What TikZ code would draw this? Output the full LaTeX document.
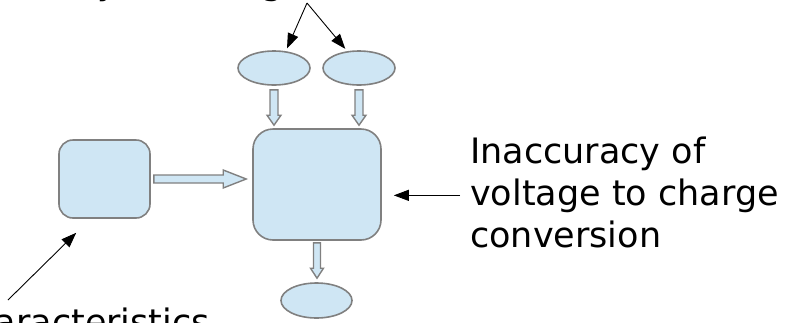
\documentclass[tikz,border=0pt]{standalone}
\usepackage{fontspec}
\setmainfont{DejaVu Sans}
\usetikzlibrary{calc,arrows.meta,shapes.geometric}
\definecolor{boxfill}{HTML}{CFE6F4}
\definecolor{boxline}{HTML}{808080}
\tikzset{
  shapebase/.style={draw=boxline, fill=boxfill, line width=1.6pt, inner sep=0pt},
  rbox/.style={shapebase, rectangle, rounded corners=#1},
  oval/.style={shapebase, ellipse, minimum width=72pt, minimum height=34pt},
  labeltext/.style={font=\fontsize{35}{42}\selectfont, inner sep=0pt, text=black},
  pointer/.style={draw=black, line width=0.9pt, -{Triangle[length=15pt,width=11pt]}},
  fatstyle/.style={draw=boxline, fill=boxfill, line width=1.4pt, line join=miter},
}
\newcommand\fatarrow[5]{%
  \coordinate (fq) at ($(#2)!#5!(#1)$);
  \draw[fatstyle] ($(#1)!#3!90:(#2)$) -- ($(fq)!#3!90:(#2)$) -- ($(fq)!#4!90:(#2)$)
    -- (#2) -- ($(fq)!#4!-90:(#2)$) -- ($(fq)!#3!-90:(#2)$) -- ($(#1)!#3!-90:(#2)$) -- cycle;}
\begin{document}
\begin{tikzpicture}[x=1pt, y=-1pt]
  \useasboundingbox (0,0) rectangle (785,322);
  \clip (0,0) rectangle (785,322);
  % shapes
  \node[rbox=14pt, minimum width=91pt, minimum height=78pt] (src) at (104.5,179) {};
  \node[rbox=20pt, minimum width=128pt, minimum height=111pt] (big) at (317,184.5) {};
  \node[oval] (in1) at (274,68) {};
  \node[oval] (in2) at (359,68) {};
  \node[oval, minimum width=71pt, minimum height=35pt] (out) at (316.5,300.5) {};
  % fat arrows
  \coordinate (h1) at ($(src.east)+(3,0)$);
  \coordinate (h2) at ($(big.west |- src.east)+(-6,0)$);
  \fatarrow{h1}{h2}{4pt}{9pt}{23pt}
  \coordinate (v1s) at ($(in1.south)+(0,4)$);
  \coordinate (v1e) at ($(in1.south |- big.north)+(0,-3)$);
  \fatarrow{v1s}{v1e}{4pt}{7pt}{10pt}
  \coordinate (v2s) at ($(in2.south)+(0,4)$);
  \coordinate (v2e) at ($(in2.south |- big.north)+(0,-3)$);
  \fatarrow{v2s}{v2e}{4pt}{7pt}{10pt}
  \coordinate (v3s) at ($(big.south)+(0,2)$);
  \coordinate (v3e) at ($(big.south |- out.north)+(0,-4)$);
  \fatarrow{v3s}{v3e}{3.5pt}{6.5pt}{10pt}
  % texts
  \node[labeltext, anchor=base west] (t1) at (470,163) {Inaccuracy of};
  \node[labeltext, anchor=base west] (t2) at (470,205) {voltage to charge};
  \node[labeltext, anchor=base west] (t3) at (470,247) {conversion};
  \node[labeltext, anchor=base west] (top) at (-72,-6) {Inaccuracy of voltage};
  \node[labeltext, anchor=base east] (bot) at (210,334) {characteristics};
  % pointers
  \coordinate (ta) at (307,3);
  \draw[pointer, shorten >=3pt] (ta) -- (in1.55);
  \draw[pointer, shorten >=3pt] (ta) -- (in2.125);
  \draw[pointer, shorten <=10pt, shorten >=12pt] (t2.west) -- (t2.west -| big.east);
  \coordinate (bl) at (8,300);
  \coordinate (blt) at ($(src.south west)+(18,14)$);
  \draw[pointer] (bl) -- (blt);
\end{tikzpicture}
\end{document}
